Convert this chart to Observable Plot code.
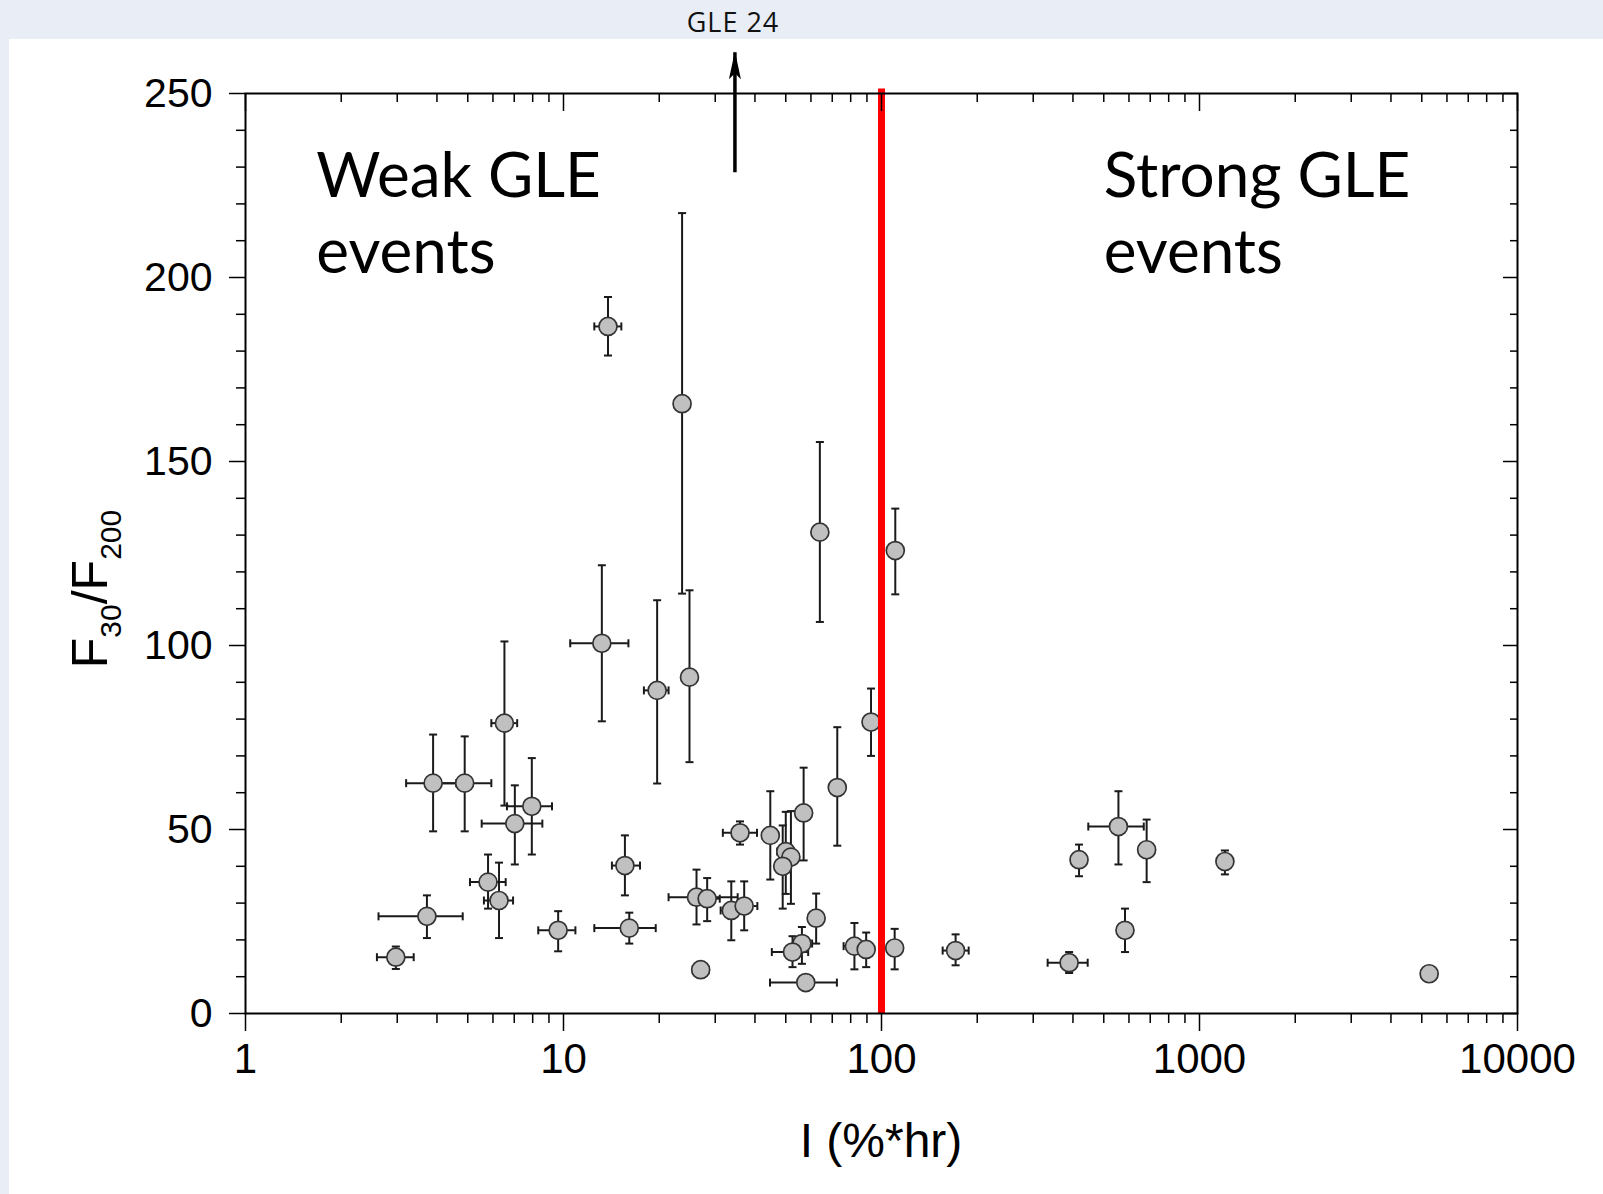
<!DOCTYPE html>
<html><head><meta charset="utf-8">
<script src="https://cdn.jsdelivr.net/npm/d3@7"></script>
<script src="https://cdn.jsdelivr.net/npm/@observablehq/plot@0.6"></script>
<style>
html,body{margin:0;padding:0;background:#e8edf6;width:1603px;height:1194px;overflow:hidden;}
#gle{position:absolute;left:733px;top:21px;transform:translate(-50%,-50%);font-family:"Open Sans",sans-serif;font-size:27px;letter-spacing:1px;color:#111;white-space:nowrap;}
#panel{position:absolute;left:9px;top:39px;width:1594px;height:1155px;background:#fff;}
#panel svg{display:block;overflow:visible;}
</style></head><body>
<div id="gle">GLE 24</div>
<div id="panel"></div>
<script>
// Integral intensity I (%*hr) with error range
const I    = [2.97,3.72,3.89,4.89,6.52,7.95,7.03,5.79,6.27,9.62,15.6,16.1,13.8,23.6,64.0,110.5,13.2,19.7,24.9,92.7,72.6,35.9,44.7,56.9,50.0,51.9,48.9,26.2,28.3,33.7,37.0,62.3,56.2,52.5,82.2,89.5,110,27.0,57.8,171,389,418,556,682,583,1202,5275];
const I_lo = [2.59,2.62,3.20,3.95,5.93,6.64,5.53,5.08,5.62,8.33,14.2,12.5,12.5,23.6,64.0,110.5,10.5,17.9,24.9,89,72.6,31.7,44.7,56.9,47,49,46.5,21.4,26.0,31.2,35.3,60,52.8,45.2,76,86,106,25.5,44.6,155.7,333,405,447,665,570,1202,5050];
const I_hi = [3.38,4.82,4.60,5.93,7.15,9.20,8.58,6.58,6.94,10.9,17.4,19.5,15.2,23.6,64.0,110.5,16.0,21.4,24.9,96,72.6,40.6,44.7,56.9,53,55,51.5,35.3,31.0,36.0,40.7,64.5,60.5,58.8,88,93,114,28.6,72.4,188,445,431,668,700,596,1202,5500];
// Ratio F30/F200 with error range
const F    = [15.3,26.4,62.6,62.6,78.9,56.3,51.6,35.7,30.7,22.6,40.2,23.2,186.7,165.7,130.8,125.8,100.6,87.8,91.4,79.2,61.4,49.1,48.4,54.5,44.0,42.5,40.0,31.6,31.2,28.0,29.2,25.9,19.0,16.7,18.3,17.4,17.8,11.9,8.4,17.1,13.8,41.8,50.8,44.5,22.6,41.3,10.8];
const F_lo = [12.1,20.5,49.5,49.5,56.5,43.2,40.5,28.5,20.5,16.9,32.1,19.0,178.8,114.1,106.4,113.9,79.4,62.5,68.3,70.0,45.6,45.9,36.4,41.6,32.5,29.8,28.5,24.2,25.1,19.9,22.6,19.0,13.5,12.6,12.0,12.6,12.0,10.0,8.4,13.1,11.0,37.3,40.5,35.7,16.7,37.8,9.5];
const F_hi = [18.2,32.1,75.8,75.3,101.1,69.4,62.0,43.2,41.0,27.8,48.4,27.4,194.7,217.5,155.3,137.2,121.8,112.3,115.0,88.3,77.8,52.2,60.4,66.8,54.8,55.0,51.1,39.1,36.8,35.9,35.9,32.6,23.5,21.0,24.6,22.0,23.0,13.8,8.4,21.5,16.7,45.9,60.4,52.7,28.5,44.3,12.1];

// Axis ticks
const xMajor = [1, 10, 100, 1000, 10000];
const xMinor = [2,3,4,5,6,7,8,9,20,30,40,50,60,70,80,90,200,300,400,500,600,700,800,900,2000,3000,4000,5000,6000,7000,8000,9000];
const yMajor = [0, 50, 100, 150, 200, 250];
const yMinor = [10,20,30,40,60,70,80,90,110,120,130,140,160,170,180,190,210,220,230,240];

// Annotations
const threshold = [100];
const regionLabels = ["Weak GLE\nevents", "Strong GLE\nevents"];
const regionLabelX = [1.67, 500];
const regionLabelY = [236.6, 236.6];
const arrowX = [34.6];
const arrowFrom = [228.6];
const arrowTo = [261.2];

const rows = I.map((x, i) => ({x, xlo: I_lo[i], xhi: I_hi[i], y: F[i], ylo: F_lo[i], yhi: F_hi[i]}));
const rowsXe = rows.filter(d => d.xlo < d.xhi);
const rowsYe = rows.filter(d => d.ylo < d.yhi);
const labels = regionLabels.map((t, i) => ({t, x: regionLabelX[i], y: regionLabelY[i]}));
const arrows = arrowX.map((x, i) => ({x, y1: arrowFrom[i], y2: arrowTo[i]}));

const hbar = {draw(ctx, size) { const r = Math.sqrt(size / Math.PI); ctx.moveTo(-r, 0); ctx.lineTo(r, 0); }};
const vbar = {draw(ctx, size) { const r = Math.sqrt(size / Math.PI); ctx.moveTo(0, -r); ctx.lineTo(0, r); }};
const head = {draw(ctx, size) { ctx.moveTo(0, -1); ctx.lineTo(-6, 27); ctx.lineTo(0, 21); ctx.lineTo(6, 27); ctx.closePath(); }};

const ink = "#1a1a1a";
const plot = Plot.plot({
  width: 1594, height: 1155,
  marginLeft: 236, marginRight: 86, marginTop: 54, marginBottom: 181,
  x: {type: "log", domain: [1, 10000], label: null},
  y: {domain: [0, 250], label: null},
  style: {background: "transparent", fontFamily: "'Liberation Sans', Arial, sans-serif", color: "#000", overflow: "visible"},
  marks: [
    Plot.ruleY(rowsXe, {y: "y", x1: "xlo", x2: "xhi", stroke: ink, strokeWidth: 2}),
    Plot.ruleX(rowsYe, {x: "x", y1: "ylo", y2: "yhi", stroke: ink, strokeWidth: 2}),
    Plot.dot(rowsXe, {x: "xlo", y: "y", symbol: vbar, r: 4, stroke: ink, strokeWidth: 2}),
    Plot.dot(rowsXe, {x: "xhi", y: "y", symbol: vbar, r: 4, stroke: ink, strokeWidth: 2}),
    Plot.dot(rowsYe, {x: "x", y: "ylo", symbol: hbar, r: 4, stroke: ink, strokeWidth: 2}),
    Plot.dot(rowsYe, {x: "x", y: "yhi", symbol: hbar, r: 4, stroke: ink, strokeWidth: 2}),
    Plot.dot(rows, {x: "x", y: "y", r: 9, fill: "#c0c0c0", stroke: "#333", strokeWidth: 1.7}),
    Plot.ruleX(threshold, {x: d => d, y1: 0, y2: 251.2, stroke: "#ff0000", strokeWidth: 7}),
    Plot.text(labels, {x: "x", y: "y", text: "t", textAnchor: "start", lineAnchor: "top", lineHeight: 1.23, fontSize: 62, fontFamily: "Lato, sans-serif", fill: "#000"}),
    Plot.link(arrows, {x1: "x", x2: "x", y1: "y1", y2: "y2", stroke: "#000", strokeWidth: 3.5}),
    Plot.dot(arrows, {x: "x", y: "y2", symbol: head, r: 5, fill: "#000", stroke: "none"}),
    Plot.axisX({ticks: xMajor, tickSize: 18, tickPadding: 12, tickFormat: d => String(d), fontSize: 42, stroke: "#000", strokeWidth: 1.5}),
    Plot.axisX({ticks: xMinor, tickSize: 10, tickFormat: () => "", stroke: "#000", strokeWidth: 1.5}),
    Plot.axisX({anchor: "top", ticks: xMajor, tickSize: 17, dy: 17, tickFormat: () => "", stroke: "#000", strokeWidth: 1.5}),
    Plot.axisX({anchor: "top", ticks: xMinor, tickSize: 8, dy: 8, tickFormat: () => "", stroke: "#000", strokeWidth: 1.5}),
    Plot.axisY({ticks: yMajor, tickSize: 16, tickPadding: 17, tickFormat: d => String(d), fontSize: 41, stroke: "#000", strokeWidth: 1.5}),
    Plot.axisY({ticks: yMinor, tickSize: 9, tickFormat: () => "", stroke: "#000", strokeWidth: 1.5}),
    Plot.axisY({anchor: "right", ticks: yMajor, tickSize: 15, dx: -15, tickFormat: () => "", stroke: "#000", strokeWidth: 1.5}),
    Plot.axisY({anchor: "right", ticks: yMinor, tickSize: 8, dx: -8, tickFormat: () => "", stroke: "#000", strokeWidth: 1.5}),
    Plot.frame({stroke: "#000", strokeWidth: 2})
  ]
});
document.getElementById("panel").appendChild(plot);

const svg = d3.select(plot);
// y-axis title with subscripts
const yt = svg.append("text")
  .attr("transform", "translate(98,550) rotate(-90)")
  .attr("text-anchor", "middle")
  .attr("font-family", "'Liberation Sans', Arial, sans-serif")
  .attr("font-size", 50).attr("fill", "#000");
yt.append("tspan").text("F");
yt.append("tspan").attr("font-size", 30).attr("dy", 14).text("30");
yt.append("tspan").attr("dy", -14).text("/F");
yt.append("tspan").attr("font-size", 30).attr("dy", 14).text("200");
// x-axis title
svg.append("text")
  .attr("x", 872).attr("y", 1118)
  .attr("text-anchor", "middle")
  .attr("font-family", "'Liberation Sans', Arial, sans-serif")
  .attr("font-size", 48).attr("fill", "#000")
  .text("I (%*hr)");
</script>
</body></html>
